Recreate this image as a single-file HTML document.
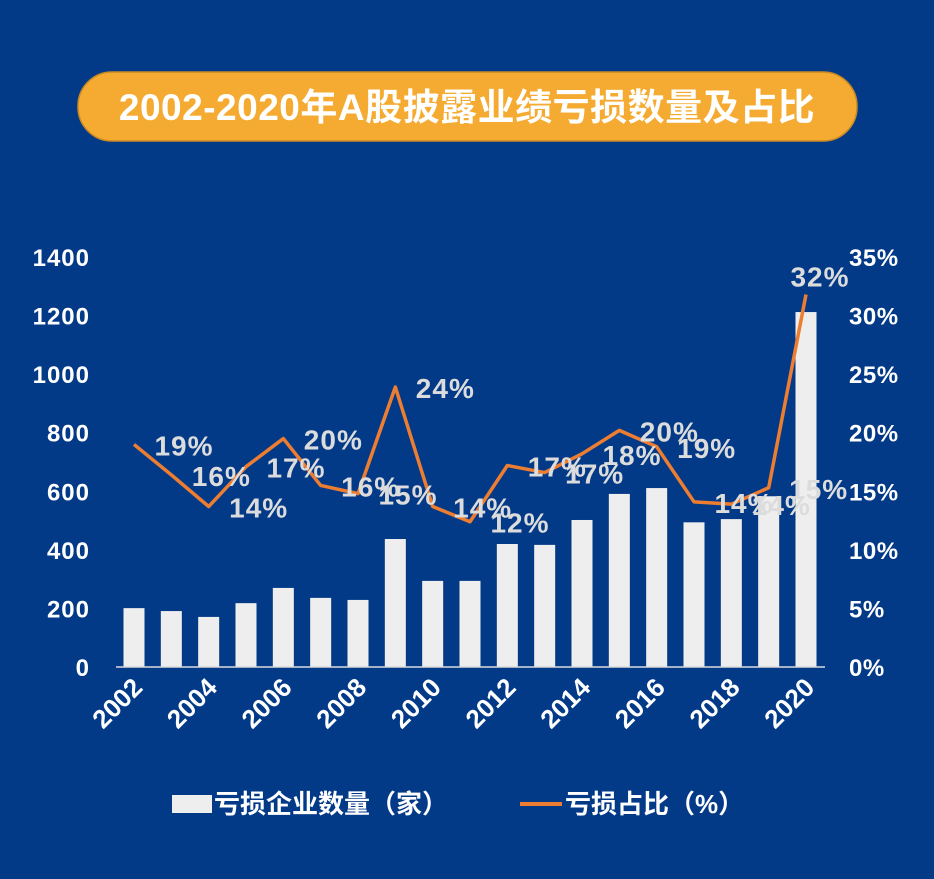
<!DOCTYPE html>
<html><head><meta charset="utf-8"><style>
body{margin:0;background:#033a88;}
svg{display:block;font-family:"Liberation Sans","Noto Sans CJK SC",sans-serif;}
</style></head><body>
<svg width="934" height="879" viewBox="0 0 934 879" xmlns="http://www.w3.org/2000/svg">
<rect x="0" y="0" width="934" height="879" fill="#033a88"/>
<rect x="78" y="72" width="779" height="69" rx="34" fill="#f5ab31" stroke="#c98a22" stroke-width="1.5"/>
<text x="467" y="120" text-anchor="middle" fill="#fff" font-size="37" font-weight="bold" letter-spacing="0.5">2002-2020年A股披露业绩亏损数量及占比</text>
<g id="plot"></g>
<g>
<rect x="172" y="795" width="40" height="18" fill="#eeeeee"/>
<text x="214" y="813" fill="#fff" font-size="26" font-weight="bold">亏损企业数量（家）</text>
<line x1="520" y1="804" x2="562" y2="804" stroke="#ed7d31" stroke-width="4"/>
<text x="565" y="813" fill="#fff" font-size="26" font-weight="bold">亏损占比（%）</text>
</g>
</svg>
<script>
const years=[2002,2003,2004,2005,2006,2007,2008,2009,2010,2011,2012,2013,2014,2015,2016,2017,2018,2019,2020];
const counts=[201,191,171,218,270,236,229,437,294,294,420,417,502,591,611,494,505,583,1212];
const ratios=[19.0,16.4,13.7,17.1,19.5,15.5,14.8,23.9,13.7,12.4,17.2,16.6,18.2,20.2,18.8,14.1,13.9,15.3,31.8];
const ratioLabels=["19%","16%","14%","17%","20%","16%","15%","24%","14%","12%","17%","17%","18%","20%","19%","14%","14%","15%","32%"];
const leftTicks=[0,200,400,600,800,1000,1200,1400];
const rightTicks=[0,5,10,15,20,25,30,35];
const NS="http://www.w3.org/2000/svg";
const g=document.getElementById('plot');
const y0=667,yTop=257;
const xPos=i=>134+i*(672/18);
const yL=v=>y0-(v/1400)*(y0-yTop);
const yR=v=>y0-(v/35)*(y0-yTop);
function mk(t,a){const e=document.createElementNS(NS,t);for(const k in a)e.setAttribute(k,a[k]);g.appendChild(e);return e;}
leftTicks.forEach(v=>{const e=mk('text',{x:90,y:yL(v)+9,'text-anchor':'end',fill:'#fff','font-size':24,'font-weight':'bold','letter-spacing':1});e.textContent=v;

});
rightTicks.forEach(v=>{const e=mk('text',{x:849,y:yR(v)+9,fill:'#fff','font-size':24,'font-weight':'bold','letter-spacing':0.5});e.textContent=v+'%';

});
counts.forEach((v,i)=>{const e=mk('rect',{x:xPos(i)-10.5,y:yL(v),width:21,height:y0-yL(v),fill:'#eeeeee'});

});
const ax=mk('line',{x1:116,y1:y0,x2:825,y2:y0,stroke:'#d9d9d9','stroke-width':1.5});


years.forEach((yr,i)=>{if(yr%2)return;const x=xPos(i)+10,y=y0+22;const e=mk('text',{x:x,y:y,'text-anchor':'end',fill:'#fff','font-size':26,'font-weight':'bold',transform:`rotate(-45 ${x} ${y})`});e.textContent=yr;

});
const pl=mk('polyline',{points:ratios.map((v,i)=>xPos(i)+','+yR(v)).join(' '),fill:'none',stroke:'#ed7d31','stroke-width':3.5,'stroke-linejoin':'round'});


ratios.forEach((v,i)=>{const last=i===ratios.length-1;const x=last?xPos(i)+14:xPos(i)+50,y=last?yR(v)-8:yR(v)+11;
const e=mk('text',{x:x,y:y,'text-anchor':'middle',fill:'#dcdcdc','font-size':28,'font-weight':'bold','letter-spacing':1});e.textContent=ratioLabels[i];

});
</script>
</body></html>
